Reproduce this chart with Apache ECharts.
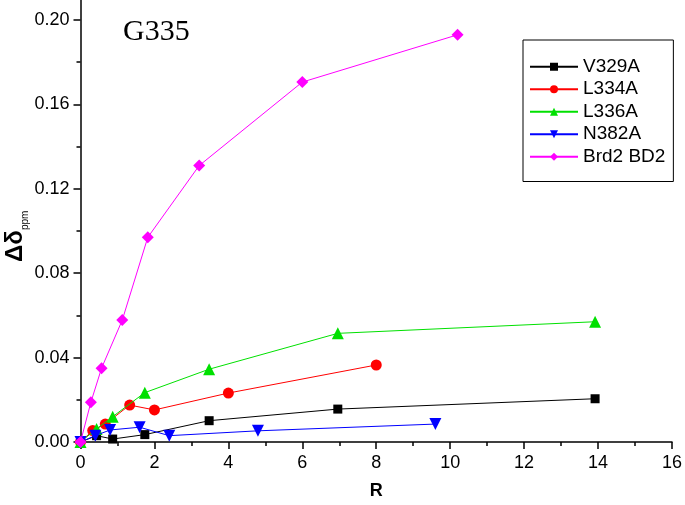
<!DOCTYPE html>
<html>
<head>
<meta charset="utf-8">
<script src="https://cdn.jsdelivr.net/npm/echarts@6/dist/echarts.min.js"></script>
<style>
  html, body { margin: 0; padding: 0; background: #fff; }
  #chart { width: 685px; height: 505px; }
</style>
</head>
<body>
<div id="chart"></div>
<script>
// data
var names = ['V329A', 'L334A', 'L336A', 'N382A', 'Brd2 BD2'];

var xV329A = [0, 0.435, 0.87, 1.74, 3.48, 6.96, 13.92];
var yV329A = [0, 0.0030, 0.0014, 0.0035, 0.0101, 0.0156, 0.0205];

var xL334A = [0, 0.33, 0.67, 1.33, 2.0, 4.0, 8.0];
var yL334A = [0, 0.0054, 0.0085, 0.0175, 0.0152, 0.0232, 0.0365];

var xL336A = [0, 0.435, 0.87, 1.74, 3.48, 6.96, 13.92];
var yL336A = [0, 0.0062, 0.0120, 0.0234, 0.0345, 0.0515, 0.0570];

var xN382A = [0, 0.4, 0.8, 1.6, 2.4, 4.8, 9.6];
var yN382A = [0, 0.0030, 0.0057, 0.0070, 0.0030, 0.0053, 0.0085];

var xBrd2 = [0, 0.28, 0.57, 1.13, 1.82, 3.21, 6.0, 10.2];
var yBrd2 = [0, 0.0188, 0.0350, 0.0578, 0.0970, 0.1310, 0.1706, 0.1930];

var yMajorTicks = [0, 0.04, 0.08, 0.12, 0.16, 0.20];
var yMinorTicks = [0.02, 0.06, 0.10, 0.14, 0.18];

function pairs(xs, ys) {
  return xs.map(function (x, i) { return [x, ys[i]]; });
}

var font = 'Liberation Sans, Arial, sans-serif';

var myChart = echarts.init(document.getElementById('chart'));

var option = {
  animation: false,
  backgroundColor: '#fff',
  grid: { left: 80.5, right: 8, top: 0, bottom: 62 },
  xAxis: {
    type: 'value',
    min: 0,
    max: 16,
    interval: 2,
    name: 'R',
    nameLocation: 'middle',
    nameGap: 40,
    nameTextStyle: { fontFamily: font, fontSize: 18, fontWeight: 'bold', color: '#000' },
    axisLine: { lineStyle: { color: '#000', width: 1.5 } },
    axisTick: { length: 7, lineStyle: { color: '#000', width: 1.5 } },
    minorTick: { show: true, splitNumber: 2, length: 4, lineStyle: { color: '#000', width: 1.5 } },
    axisLabel: { color: '#000', fontFamily: font, fontSize: 18, margin: 12 },
    splitLine: { show: false }
  },
  yAxis: [{
    type: 'value',
    min: 0,
    max: 0.2095,
    interval: 0.04,
    axisLine: { show: true, lineStyle: { color: '#000', width: 1.5 } },
    axisTick: { show: true, customValues: yMajorTicks, length: 7, lineStyle: { color: '#000', width: 1.5 } },
    axisLabel: {
      color: '#000', fontFamily: font, fontSize: 18, margin: 11,
      customValues: yMajorTicks,
      formatter: function (v) { return v.toFixed(2); }
    },
    splitLine: { show: false }
  }, {
    type: 'value',
    min: 0,
    max: 0.2095,
    position: 'left',
    axisLine: { show: false },
    axisTick: { show: true, customValues: yMinorTicks, length: 4, lineStyle: { color: '#000', width: 1.5 } },
    axisLabel: { show: false },
    splitLine: { show: false }
  }],
  legend: {
    orient: 'vertical',
    left: 523,
    top: 40,
    padding: [17, 8, 15, 6],
    itemGap: 3,
    itemWidth: 48,
    itemHeight: 10,
    borderColor: '#000',
    borderWidth: 1,
    backgroundColor: '#fff',
    textStyle: { fontFamily: font, fontSize: 19, color: '#000', lineHeight: 19.5 },
    data: names
  },
  graphic: [{
    type: 'text',
    left: 123,
    top: 17,
    style: { text: 'G335', font: '30px "Liberation Serif", "DejaVu Serif", serif', fill: '#000' }
  }, {
    type: 'text',
    x: 3,
    y: 262,
    rotation: Math.PI / 2,
    style: { text: 'Δδ', font: 'bold 24px "Liberation Sans", Arial, sans-serif', fill: '#000' }
  }, {
    type: 'text',
    x: 20,
    y: 230,
    rotation: Math.PI / 2,
    style: { text: 'ppm', font: '10px "Liberation Sans", Arial, sans-serif', fill: '#000' }
  }],
  series: [{
    name: names[0],
    type: 'line',
    data: pairs(xV329A, yV329A),
    symbol: 'rect',
    symbolSize: 9,
    color: '#000000',
    lineStyle: { width: 1, color: '#000000' },
    z: 2
  }, {
    name: names[1],
    type: 'line',
    data: pairs(xL334A, yL334A),
    symbol: 'circle',
    symbolSize: 11,
    color: '#ff0000',
    lineStyle: { width: 1, color: '#ff0000' },
    z: 3
  }, {
    name: names[2],
    type: 'line',
    data: pairs(xL336A, yL336A),
    symbol: 'triangle',
    symbolSize: 12,
    color: '#00e000',
    lineStyle: { width: 1, color: '#00e000' },
    z: 4
  }, {
    name: names[3],
    type: 'line',
    data: pairs(xN382A, yN382A),
    symbol: 'triangle',
    symbolRotate: 180,
    symbolSize: 12,
    color: '#0000ff',
    lineStyle: { width: 1, color: '#0000ff' },
    z: 5
  }, {
    name: names[4],
    type: 'line',
    data: pairs(xBrd2, yBrd2),
    symbol: 'diamond',
    symbolSize: 12,
    color: '#ff00ff',
    lineStyle: { width: 1, color: '#ff00ff' },
    z: 6
  }]
};

myChart.setOption(option);
</script>
</body>
</html>
